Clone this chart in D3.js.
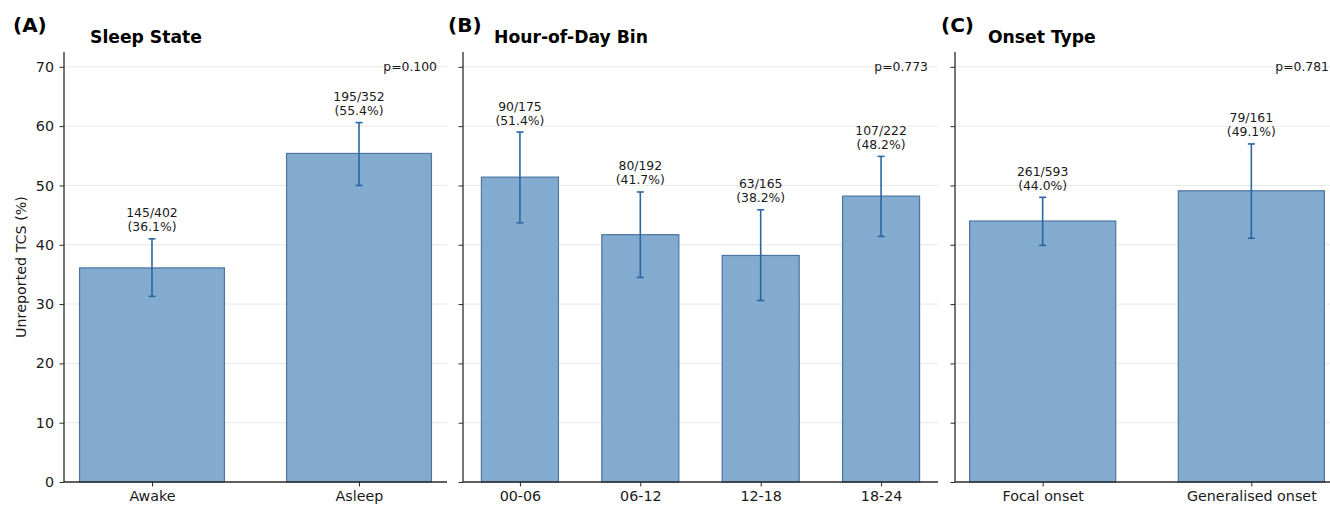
<!DOCTYPE html>
<html>
<head>
<meta charset="utf-8">
<script src="https://cdn.jsdelivr.net/npm/d3@7/dist/d3.min.js"></script>
<style>
  html, body { margin: 0; padding: 0; background: #fff; }
  svg { display: block; font-family: "DejaVu Sans", sans-serif; }
</style>
</head>
<body>
<svg id="chart" width="1330" height="506"></svg>
<script>
// ---- data ----
const yTicks = [0, 10, 20, 30, 40, 50, 60, 70];

const sleepCats = ["Awake", "Asleep"];
const sleepN = [145, 195];
const sleepTotal = [402, 352];
const sleepPct = [36.1, 55.4];
const sleepLo = [31.3, 50.0];
const sleepHi = [41.0, 60.6];
const sleepP = "p=0.100";

const hourCats = ["00-06", "06-12", "12-18", "18-24"];
const hourN = [90, 80, 63, 107];
const hourTotal = [175, 192, 165, 222];
const hourPct = [51.4, 41.7, 38.2, 48.2];
const hourLo = [43.7, 34.5, 30.6, 41.4];
const hourHi = [59.0, 48.9, 45.9, 54.9];
const hourP = "p=0.773";

const onsetCats = ["Focal onset", "Generalised onset"];
const onsetN = [261, 79];
const onsetTotal = [593, 161];
const onsetPct = [44.0, 49.1];
const onsetLo = [39.9, 41.1];
const onsetHi = [48.0, 57.0];
const onsetP = "p=0.781";

// ---- layout ----
const svg = d3.select("#chart");
const plotTop = 52, plotBottom = 482;
const y = d3.scaleLinear().domain([0, 72.5]).range([plotBottom, plotTop]);

const fillC = "#83aacf", edgeC = "#4a76a2", errC = "#2b66a0", textC = "#1a1a1a", spineC = "#2a2a2a";
const tickFont = 14.3;

const panels = [
  {letter: "(A)", title: "Sleep State", cats: sleepCats, n: sleepN, tot: sleepTotal, pct: sleepPct, lo: sleepLo, hi: sleepHi, p: sleepP,
   x0: 64, x1: 447, pad: 0.425, bw: 0.7, letterX: 13, titleX: 90, yaxisLabels: true},
  {letter: "(B)", title: "Hour-of-Day Bin", cats: hourCats, n: hourN, tot: hourTotal, pct: hourPct, lo: hourLo, hi: hourHi, p: hourP,
   x0: 463, x1: 938, pad: 0.473, bw: 0.64, letterX: 448, titleX: 494, yaxisLabels: false},
  {letter: "(C)", title: "Onset Type", cats: onsetCats, n: onsetN, tot: onsetTotal, pct: onsetPct, lo: onsetLo, hi: onsetHi, p: onsetP,
   x0: 955, x1: 1339, pad: 0.42, bw: 0.7, letterX: 941, titleX: 988, yaxisLabels: false}
];

panels.forEach(P => {
  const k = P.cats.length;
  const x = d3.scaleLinear().domain([-P.pad, k - 1 + P.pad]).range([P.x0, P.x1]);
  const unit = x(1) - x(0);
  const g = svg.append("g");

  // gridlines
  g.selectAll(".grid").data(yTicks.filter(t => t > 0)).enter().append("line")
    .attr("x1", P.x0).attr("x2", P.x1)
    .attr("y1", d => y(d)).attr("y2", d => y(d))
    .attr("stroke", "#e8e8e8").attr("stroke-width", 1);

  const idx = d3.range(k);
  // bars
  g.selectAll(".bar").data(idx).enter().append("rect")
    .attr("x", i => x(i) - P.bw * unit / 2)
    .attr("width", P.bw * unit)
    .attr("y", i => y(P.pct[i]))
    .attr("height", i => y(0) - y(P.pct[i]))
    .attr("fill", fillC).attr("stroke", edgeC).attr("stroke-width", 1.2);

  // error bars
  idx.forEach(i => {
    const cx = x(i);
    g.append("line").attr("x1", cx).attr("x2", cx).attr("y1", y(P.lo[i])).attr("y2", y(P.hi[i]))
      .attr("stroke", errC).attr("stroke-width", 1.6);
    [P.lo[i], P.hi[i]].forEach(v => {
      g.append("line").attr("x1", cx - 3.5).attr("x2", cx + 3.5).attr("y1", y(v)).attr("y2", y(v))
        .attr("stroke", errC).attr("stroke-width", 1.6);
    });
    const hy = y(P.hi[i]);
    g.append("text").attr("x", cx).attr("y", hy - 21.5).attr("text-anchor", "middle")
      .attr("font-size", 12.4).attr("fill", textC).text(P.n[i] + "/" + P.tot[i]);
    g.append("text").attr("x", cx).attr("y", hy - 7.5).attr("text-anchor", "middle")
      .attr("font-size", 12.4).attr("fill", textC).text("(" + P.pct[i].toFixed(1) + "%)");
  });

  // axes
  const yAxis = d3.axisLeft(y).tickValues(yTicks).tickSize(4.5).tickPadding(5.5)
    .tickFormat(P.yaxisLabels ? d3.format("d") : () => "");
  const ya = g.append("g").attr("transform", `translate(${P.x0},0)`).call(yAxis);
  const xAxis = d3.axisBottom(x).tickValues(idx).tickSize(4.5).tickPadding(4.5)
    .tickFormat(i => P.cats[i]);
  const xa = g.append("g").attr("transform", `translate(0,${plotBottom})`).call(xAxis);
  [ya, xa].forEach(a => {
    a.select(".domain").remove();
    a.selectAll(".tick line").attr("stroke", spineC).attr("stroke-width", 1);
    a.selectAll(".tick text").attr("font-size", tickFont).attr("fill", textC).attr("font-family", "DejaVu Sans");
  });
  // spines
  g.append("line").attr("x1", P.x0).attr("x2", P.x0).attr("y1", plotTop).attr("y2", plotBottom)
    .attr("stroke", spineC).attr("stroke-width", 1.3);
  g.append("line").attr("x1", P.x0).attr("x2", P.x1).attr("y1", plotBottom).attr("y2", plotBottom)
    .attr("stroke", spineC).attr("stroke-width", 1.3);

  // p-value
  g.append("text").attr("x", P.x1 - 10).attr("y", y(70) + 4.5).attr("text-anchor", "end")
    .attr("font-size", 12.4).attr("fill", textC).text(P.p);

  // titles
  svg.append("text").attr("x", P.letterX).attr("y", 32).attr("font-size", 20).attr("font-weight", "bold")
    .attr("fill", "#000").text(P.letter);
  svg.append("text").attr("x", P.titleX).attr("y", 43).attr("font-size", 17.2).attr("font-weight", "bold")
    .attr("fill", "#000").text(P.title);
});

// y-axis label
svg.append("text").attr("transform", `translate(26,${(plotTop + plotBottom) / 2}) rotate(-90)`)
  .attr("text-anchor", "middle").attr("font-size", tickFont).attr("fill", textC).text("Unreported TCS (%)");
</script>
</body>
</html>
